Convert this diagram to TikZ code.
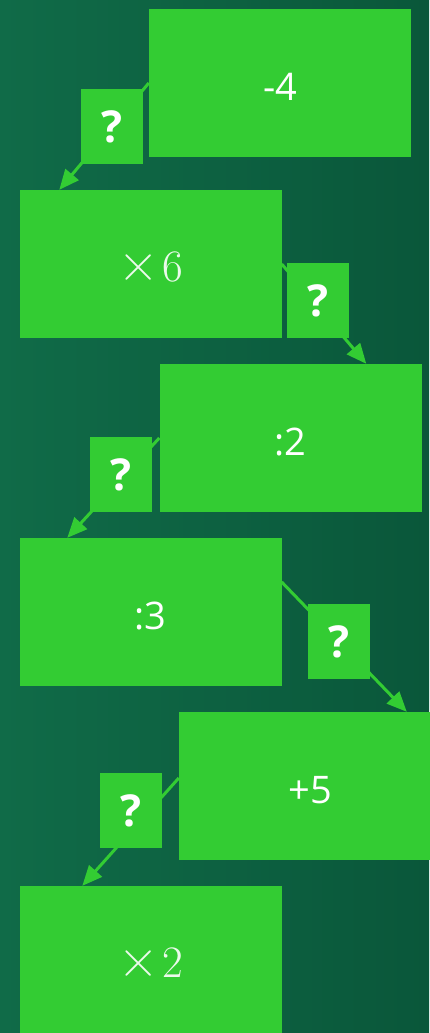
\documentclass[tikz,border=0pt]{standalone}
\usepackage{fontspec}
\setmainfont{Open Sans}
\newfontfamily\opfont{Latin Modern Roman}
\usetikzlibrary{arrows.meta}

\definecolor{boxgreen}{HTML}{33CC33}
\definecolor{bgtop}{HTML}{106B48}
\definecolor{bgbot}{HTML}{0A573A}

\begin{document}
\begin{tikzpicture}[x=1pt, y=-1pt, >={Triangle[length=20pt, width=17pt]},
  opbox/.style={fill=boxgreen, minimum width=262pt, minimum height=148pt, inner sep=0pt,
    text height=35pt, text depth=0pt, text=white, font=\fontsize{38}{42}\selectfont},
  qbox/.style={fill=boxgreen, minimum width=62pt, minimum height=75pt, inner sep=0pt,
    text=white, font=\fontsize{44}{48}\selectfont\bfseries},
  link/.style={->, draw=boxgreen, line width=3pt}]
  % Background
  \useasboundingbox (0,0) rectangle (429,1033);
  \shade[left color=bgtop, right color=bgbot] (0,0) rectangle (429,1033);
  % Operation boxes
  \node[opbox] (b1) at (280,83) {-4};
  \node[opbox] (b2) at (150.5,264) {\opfont\color{white!90!boxgreen}{\fontsize{56}{56}\selectfont×}\hspace{4pt}{\fontsize{45}{48}\selectfont 6}};
  \node[opbox] (b3) at (290.5,438) {:2};
  \node[opbox] (b4) at (150.5,612) {:3};
  \node[opbox] (b5) at (310,786) {+5};
  \node[opbox] (b6) at (150.5,960) {\opfont\color{white!90!boxgreen}{\fontsize{56}{56}\selectfont×}\hspace{4pt}{\fontsize{45}{48}\selectfont 2}};
  % Connectors
  \draw[link] (b1.west) -- ([xshift=40pt]b2.north west);
  \draw[link] (b2.east) -- ([xshift=207pt]b3.north west);
  \draw[link] (b3.west) -- ([xshift=48pt]b4.north west);
  \draw[link] ([yshift=30pt]b4.east) -- ([xshift=228pt]b5.north west);
  \draw[link] ([yshift=8pt]b5.west) -- ([xshift=63pt]b6.north west);
  % Question marks
  \node[qbox] (q1) at (112,126.5) {?};
  \node[qbox] (q2) at (317.5,300.5) {?};
  \node[qbox] (q3) at (120.5,474.5) {?};
  \node[qbox] (q4) at (338.5,641.5) {?};
  \node[qbox] (q5) at (131,810.5) {?};
\end{tikzpicture}
\end{document}
